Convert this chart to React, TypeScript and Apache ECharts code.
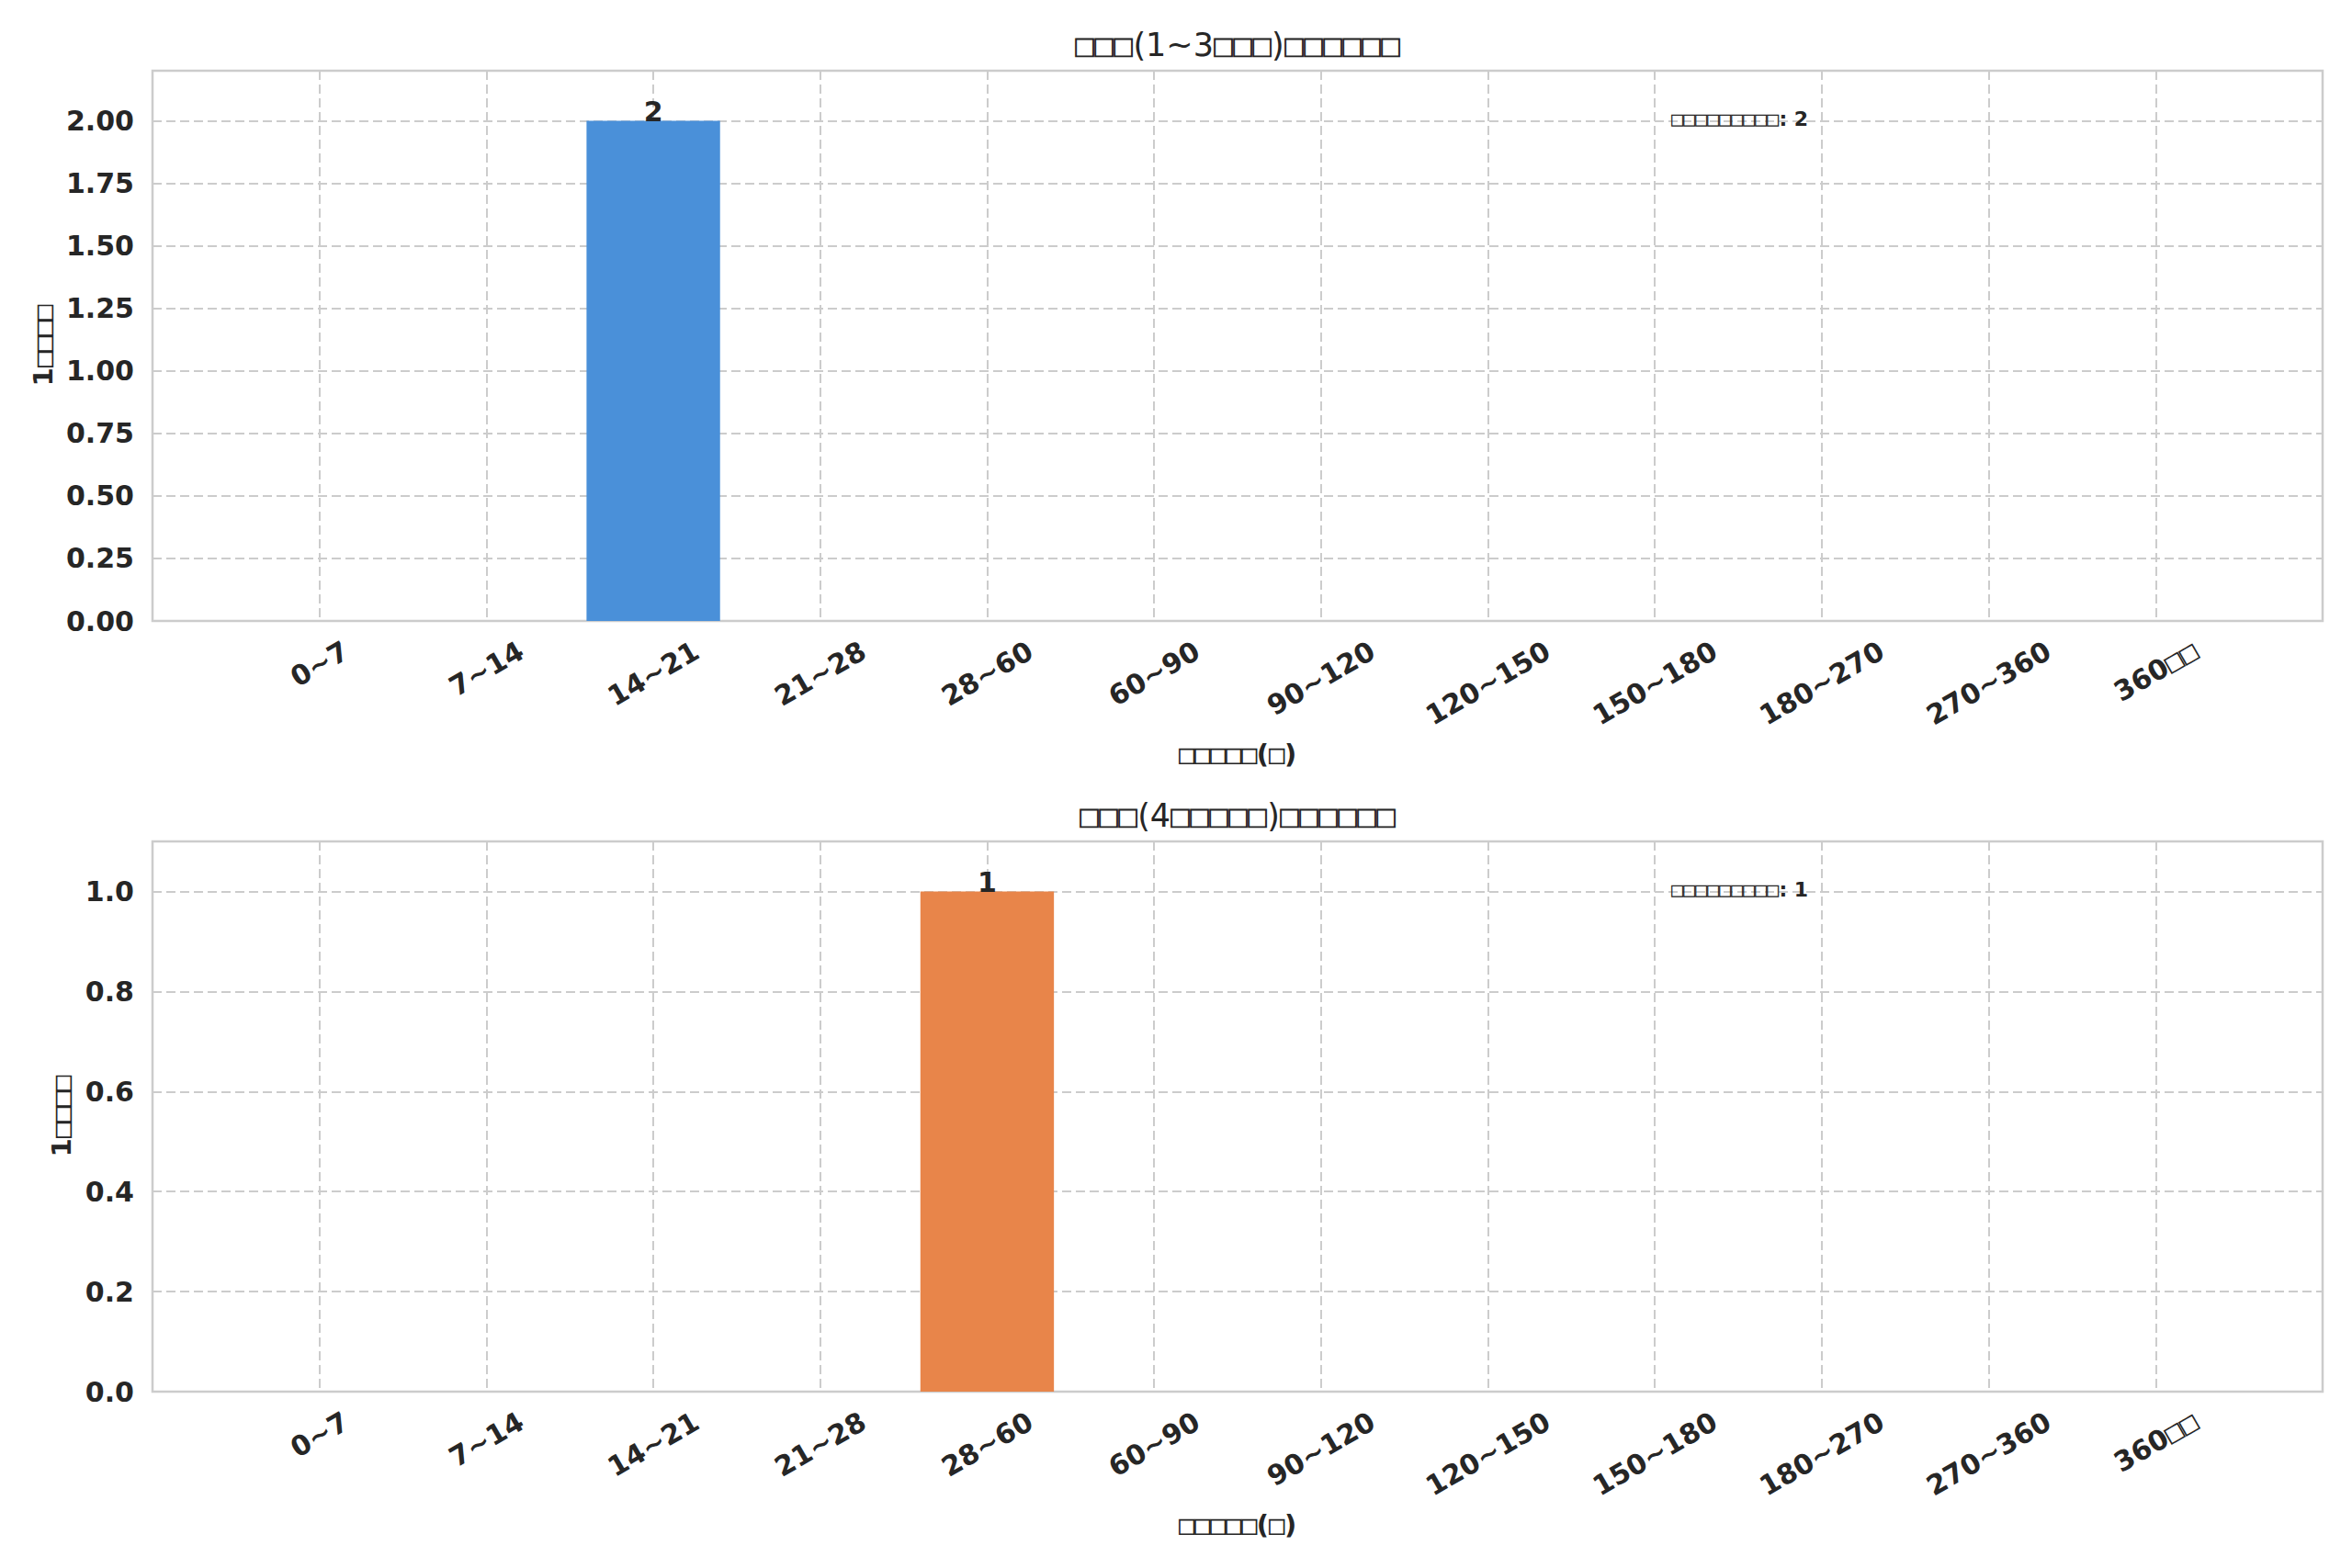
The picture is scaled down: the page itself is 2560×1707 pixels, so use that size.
import React, { useEffect, useRef } from "react";
import * as echarts from "echarts";

// ---- data ----
const CATEGORIES = ["0~7", "7~14", "14~21", "21~28", "28~60", "60~90", "90~120", "120~150", "150~180", "180~270", "270~360", "360□□"];
const SMALL_VALUES = [0, 0, 2, 0, 0, 0, 0, 0, 0, 0, 0, 0];
const LARGE_VALUES = [0, 0, 0, 0, 1, 0, 0, 0, 0, 0, 0, 0];
const TITLES = ["□□□(1~3□□□)□□□□□□", "□□□(4□□□□□)□□□□□□"];
const X_NAME = "□□□□□(□)";
const Y_NAME = "1□□□□";
const NOTES = ["□□□□□□□□□: 2", "□□□□□□□□□: 1"];
const Y_MAX = [2.2, 1.1];
const Y_STEP = [0.25, 0.2];
const Y_DECIMALS = [2, 1];
const COLORS = ["#4a90d9", "#e8854a"];

// ---- layout / style ----
const W = 2560;
const H = 1707;
const FONT = "MplTofu, 'DejaVu Sans', sans-serif";
const TXT = "#262626";
const GRIDC = "#cccccc";
const G_LEFT = 166;
const G_RIGHT = 32;
const G_TOPS = [77, 916];
const G_HEIGHT = 599;
const G_WIDTH = W - G_LEFT - G_RIGHT;
const X_MIN = -1;
const X_MAX = 12;
const TICK_FS = 30;

const FONT_CSS = `
@font-face { font-family: 'MplTofu'; src: local('DejaVu Sans Mono'), local('DejaVuSansMono'); font-weight: 100 900; unicode-range: U+25A1; }
`;

function measure(text: string, font: string): number {
  const c = document.createElement("canvas");
  const ctx = c.getContext("2d");
  if (!ctx) return text.length * 18;
  ctx.font = font;
  return ctx.measureText(text).width;
}

function draw(el: HTMLDivElement) {
  const chart = echarts.init(el, undefined, { renderer: "svg" });
  const unit = G_WIDTH / (X_MAX - X_MIN);
  const barW = 0.8 * unit;

  const rich: Record<string, any> = {};
  CATEGORIES.forEach((c, i) => {
    const w = measure(c, `bold ${TICK_FS}px ${FONT}`);
    rich["c" + i] = {
      fontFamily: FONT,
      fontWeight: "bold",
      fontSize: TICK_FS,
      color: TXT,
      padding: [0.433 * w, 0.25 * w, 0, 0],
    };
  });

  const grids = G_TOPS.map((t) => ({
    left: G_LEFT,
    right: G_RIGHT,
    top: t,
    height: G_HEIGHT,
    show: true,
    borderColor: GRIDC,
    borderWidth: 2.5,
    backgroundColor: "#ffffff",
  }));

  const xAxes = G_TOPS.map((_, k) => ({
    type: "value",
    gridIndex: k,
    min: X_MIN,
    max: X_MAX,
    interval: 1,
    axisLine: { show: false },
    axisTick: { show: false },
    splitLine: { show: true, lineStyle: { color: GRIDC, width: 2, type: [10, 5] } },
    axisLabel: {
      rotate: 30,
      align: "center",
      verticalAlign: "middle",
      margin: 30,
      showMinLabel: true,
      showMaxLabel: true,
      formatter: (v: number) => {
        const i = Math.round(v);
        if (Math.abs(v - i) > 1e-6 || i < 0 || i >= CATEGORIES.length) return "";
        return `{c${i}|${CATEGORIES[i]}}`;
      },
      rich,
    },
    name: X_NAME,
    nameLocation: "middle",
    nameGap: 130,
    nameTextStyle: { fontFamily: FONT, fontWeight: "bold", fontSize: 29, color: TXT },
  }));

  const yAxes = G_TOPS.map((_, k) => ({
    type: "value",
    gridIndex: k,
    min: 0,
    max: Y_MAX[k],
    interval: Y_STEP[k],
    axisLine: { show: false },
    axisTick: { show: false },
    splitLine: { show: true, lineStyle: { color: GRIDC, width: 2, type: [10, 5] } },
    axisLabel: {
      fontFamily: FONT,
      fontWeight: "bold",
      fontSize: TICK_FS,
      color: TXT,
      margin: 20,
      showMaxLabel: false,
      formatter: (v: number) => v.toFixed(Y_DECIMALS[k]),
    },
    name: Y_NAME,
    nameLocation: "middle",
    nameGap: k === 0 ? 102 : 82,
    nameTextStyle: { fontFamily: FONT, fontWeight: "bold", fontSize: 29, color: TXT },
  }));

  const seriesData = [SMALL_VALUES, LARGE_VALUES];
  const series = seriesData.map((vals, k) => ({
    type: "bar",
    xAxisIndex: k,
    yAxisIndex: k,
    barWidth: barW,
    data: vals.map((v, i) => [i, v]),
    itemStyle: { color: COLORS[k] },
    label: {
      show: true,
      position: "top",
      distance: -5,
      fontFamily: FONT,
      fontWeight: "bold",
      fontSize: TICK_FS,
      color: TXT,
      formatter: (p: any) => (p.value[1] > 0 ? String(p.value[1]) : ""),
    },
  }));

  const title = TITLES.map((t, k) => ({
    text: t,
    left: G_LEFT + G_WIDTH / 2,
    textAlign: "center",
    top: G_TOPS[k] - 46,
    padding: 0,
    textStyle: { fontFamily: FONT, fontWeight: "normal", fontSize: 35, color: TXT },
  }));

  const graphic = NOTES.map((n, k) => ({
    type: "text",
    x: G_LEFT + 0.7 * G_WIDTH,
    y: G_TOPS[k] + 0.087 * G_HEIGHT,
    style: {
      text: n,
      fontFamily: FONT,
      fontWeight: "bold",
      fontSize: 22,
      fill: TXT,
      align: "left",
      verticalAlign: "middle",
    },
    z: 100,
  }));

  chart.setOption({
    animation: false,
    backgroundColor: "#ffffff",
    title,
    grid: grids,
    xAxis: xAxes,
    yAxis: yAxes,
    series,
    graphic,
  } as any);
  return chart;
}

export default function App() {
  const ref = useRef<HTMLDivElement>(null);
  useEffect(() => {
    const style = document.createElement("style");
    style.textContent = FONT_CSS;
    document.head.appendChild(style);
    let chart: echarts.ECharts | null = null;
    let cancelled = false;
    const fontsReady = (document as any).fonts
      ? Promise.all([
          (document as any).fonts.load(`35px MplTofu`, "□"),
          (document as any).fonts.load(`bold 30px MplTofu`, "□"),
        ]).catch(() => null)
      : Promise.resolve(null);
    fontsReady.then(() => {
      if (cancelled || !ref.current) return;
      chart = draw(ref.current);
    });
    return () => {
      cancelled = true;
      if (chart) chart.dispose();
      style.remove();
    };
  }, []);
  return <div ref={ref} style={{ position: "absolute", left: 0, top: 0, width: W, height: H }} />;
}
